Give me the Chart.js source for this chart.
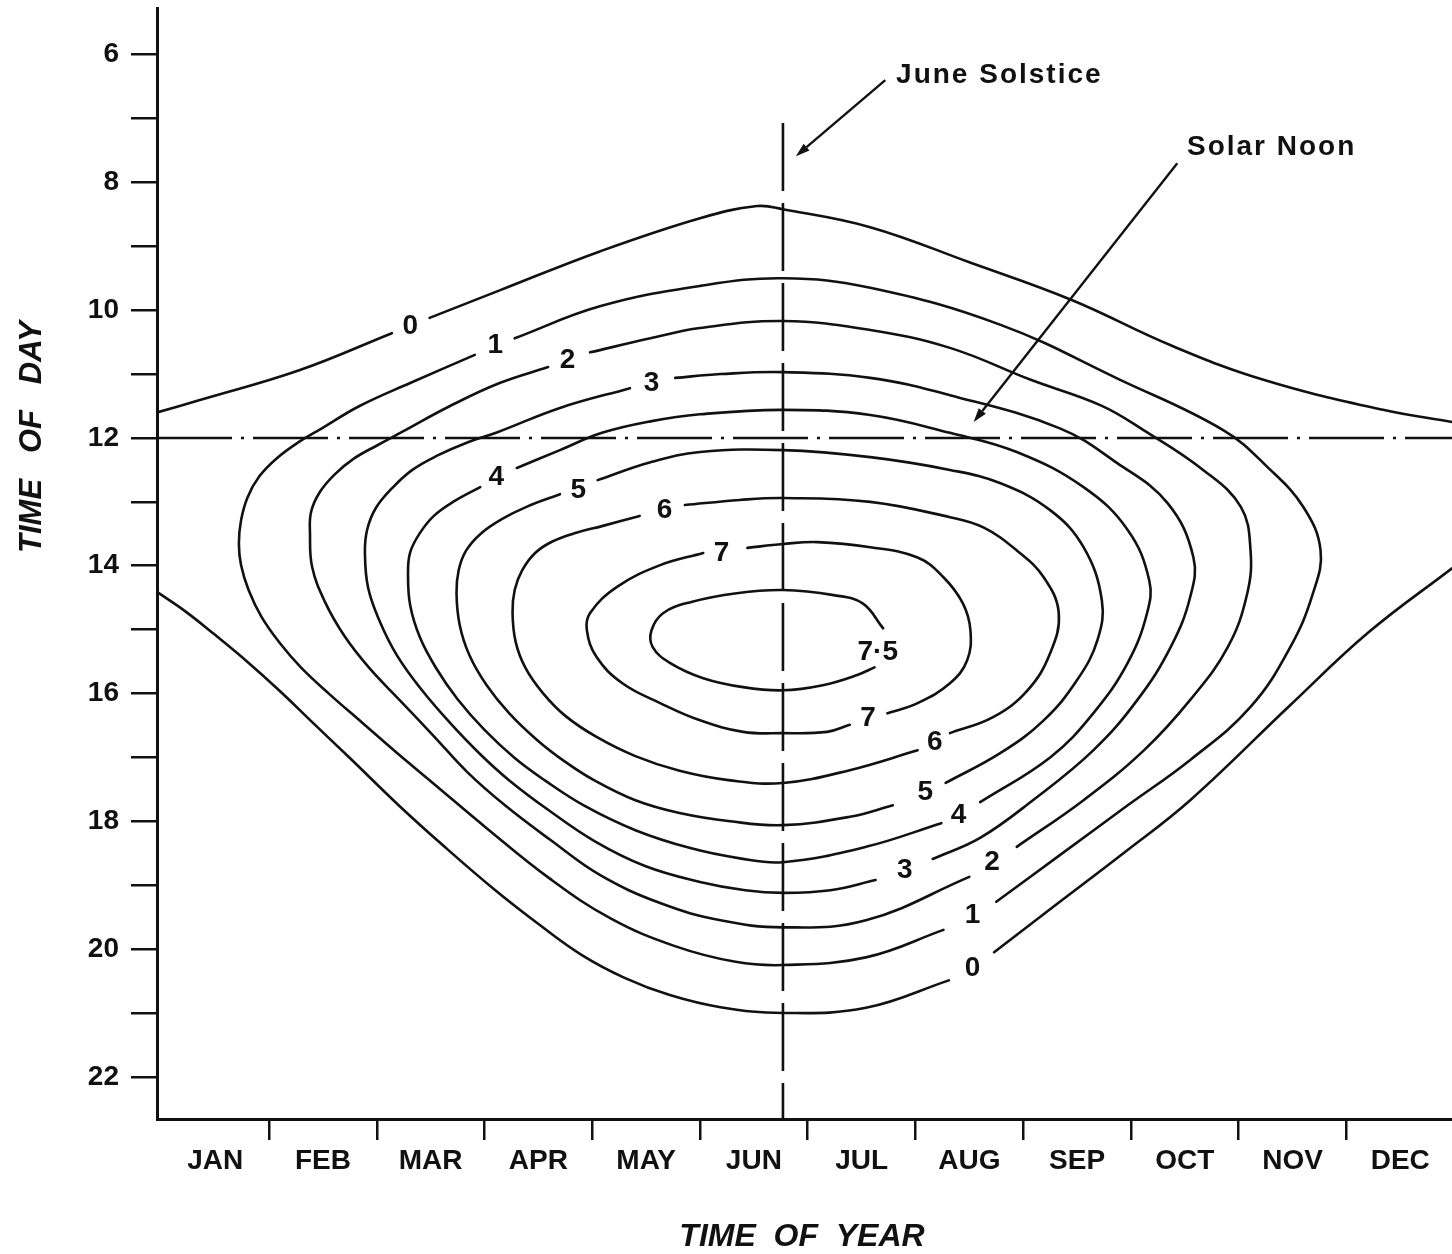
<!DOCTYPE html>
<html>
<head>
<meta charset="utf-8">
<script src="https://cdn.jsdelivr.net/npm/chart.js@4.4.1/dist/chart.umd.min.js"></script>
<style>
  html, body { margin: 0; padding: 0; background: #fff; }
  canvas { display: block; }
</style>
</head>
<body>
<canvas id="chart" width="1452" height="1254"></canvas>
<script>
// Axis content
const MONTHS = ['JAN', 'FEB', 'MAR', 'APR', 'MAY', 'JUN', 'JUL', 'AUG', 'SEP', 'OCT', 'NOV', 'DEC'];
const HOUR_TICKS = [6, 7, 8, 9, 10, 11, 12, 13, 14, 15, 16, 17, 18, 19, 20, 21, 22];
const MONTH_RANGE = [-0.04, 11.98];
const HOUR_RANGE = [5.27, 22.66];

// Reference lines: June solstice (months from 1 Jan) and solar noon (hour)
const SOLSTICE_MONTH = 5.77;
const SOLSTICE_HOURS = [7.07, 22.66];
const NOON_HOUR = 12;

// Contours, [month, hour] pairs; each inner list is one drawn stretch
// (stretches break where a contour value is written).
const contour0Upper = [
  [[-0.04, 11.60], [0.35, 11.41], [1.28, 10.94], [2.14, 10.36]],
  [[2.49, 10.12], [3.14, 9.69], [4.07, 9.08], [5.00, 8.56], [5.53, 8.37], [5.77, 8.42], [6.58, 8.70],
   [7.50, 9.25], [8.45, 9.84], [9.37, 10.55], [10.23, 11.09], [11.34, 11.56], [11.98, 11.75]]
];
const contour0Lower = [
  [[-0.04, 14.41], [0.22, 14.71], [0.49, 15.07], [0.79, 15.49], [1.10, 15.96], [1.42, 16.48], [1.75, 17.01],
   [2.21, 17.76], [2.63, 18.40], [3.10, 19.08], [3.51, 19.62], [3.90, 20.09], [4.30, 20.45], [4.72, 20.72],
   [5.19, 20.91], [5.77, 21.00], [6.54, 20.92], [7.31, 20.49]],
  [[7.73, 20.05], [8.34, 19.26], [8.93, 18.50], [9.55, 17.67], [10.48, 16.18], [11.20, 15.05], [11.98, 14.04]]
];
const contour1 = [
  [[3.28, 10.44], [4.07, 9.94], [5.00, 9.62], [5.77, 9.50], [6.58, 9.65], [7.79, 10.23], [8.90, 11.09],
   [9.86, 11.88], [10.27, 12.46], [10.60, 13.08], [10.76, 13.76], [10.69, 14.43], [10.48, 15.27],
   [10.11, 16.21], [9.55, 17.04], [8.97, 17.75], [8.34, 18.53], [7.75, 19.26]],
  [[7.26, 19.70], [6.54, 20.13], [5.77, 20.25], [5.33, 20.20], [4.76, 19.95], [4.17, 19.52], [3.60, 18.89],
   [3.00, 18.08], [2.52, 17.40], [2.18, 16.92], [1.86, 16.45], [1.56, 16.01], [1.30, 15.60], [1.10, 15.21],
   [0.93, 14.80], [0.81, 14.38], [0.74, 13.99], [0.72, 13.65], [0.74, 13.29], [0.80, 12.93], [0.91, 12.60],
   [1.07, 12.32], [1.27, 12.07], [1.49, 11.85], [1.84, 11.50], [2.31, 11.14], [2.91, 10.70]]
];
const contour2 = [
  [[3.98, 10.66], [4.54, 10.44], [5.00, 10.28], [5.77, 10.17], [6.58, 10.31], [7.32, 10.59], [8.07, 11.09],
   [8.72, 11.49], [9.12, 11.88], [9.67, 12.50], [10.02, 13.08], [10.11, 13.76], [10.08, 14.43], [9.90, 15.27],
   [9.55, 16.10], [9.12, 16.89], [8.56, 17.67], [7.94, 18.40]],
  [[7.50, 18.87], [6.54, 19.55], [5.77, 19.66], [5.19, 19.55], [4.63, 19.28], [4.07, 18.84], [3.61, 18.29],
   [3.19, 17.75], [2.84, 17.23], [2.52, 16.65], [2.21, 16.10], [1.93, 15.60], [1.70, 15.10], [1.52, 14.57],
   [1.40, 14.02], [1.38, 13.49], [1.39, 13.16], [1.47, 12.85], [1.61, 12.57], [1.79, 12.32], [2.01, 12.11],
   [2.23, 11.91], [2.68, 11.50], [3.14, 11.14], [3.59, 10.89]]
];
const contour3 = [
  [[4.77, 11.06], [5.19, 11.00], [5.77, 10.97], [6.58, 11.06], [7.32, 11.33], [8.34, 11.85], [8.87, 12.39],
   [9.34, 13.02], [9.58, 13.87], [9.55, 14.49], [9.37, 15.27], [9.06, 16.10], [8.65, 16.89], [8.09, 17.67],
   [7.60, 18.26], [7.16, 18.59]],
  [[6.63, 18.92], [6.21, 19.08], [5.77, 19.12], [5.42, 19.08], [5.00, 18.95], [4.49, 18.70], [4.02, 18.31],
   [3.59, 17.82], [3.23, 17.36], [2.96, 16.95], [2.68, 16.46], [2.42, 15.95], [2.19, 15.41], [2.03, 14.88],
   [1.92, 14.35], [1.89, 13.80], [1.91, 13.44], [1.99, 13.10], [2.14, 12.79], [2.33, 12.50], [2.57, 12.27],
   [2.84, 12.07], [3.12, 11.91], [3.70, 11.53], [4.35, 11.22]]
];
const contour4 = [
  [[3.30, 12.47], [3.70, 12.19], [4.09, 11.92], [4.54, 11.74], [5.00, 11.63], [5.77, 11.56], [6.58, 11.64],
   [7.32, 11.92], [7.94, 12.22], [8.56, 12.77], [8.97, 13.44], [9.17, 14.23], [9.15, 14.74], [8.97, 15.52],
   [8.65, 16.31], [8.25, 17.00], [7.60, 17.70]],
  [[7.24, 18.03], [6.54, 18.40], [5.77, 18.64], [5.37, 18.58], [4.91, 18.42], [4.40, 18.14], [3.93, 17.76],
   [3.56, 17.36], [3.28, 17.01], [3.00, 16.57], [2.75, 16.09], [2.55, 15.60], [2.40, 15.12], [2.31, 14.62],
   [2.29, 14.12], [2.31, 13.79], [2.40, 13.49], [2.53, 13.22], [2.72, 12.99], [2.96, 12.77]]
];
const contour5 = [
  [[4.05, 12.66], [4.54, 12.38], [5.00, 12.22], [5.77, 12.19], [6.58, 12.30], [7.32, 12.50], [7.79, 12.71],
   [8.25, 13.13], [8.56, 13.71], [8.73, 14.54], [8.69, 15.16], [8.50, 15.79], [8.19, 16.42], [7.79, 16.93],
   [7.28, 17.40]],
  [[6.79, 17.75], [6.39, 17.93], [5.77, 18.06], [5.28, 18.00], [4.81, 17.87], [4.40, 17.67], [4.02, 17.36],
   [3.75, 17.07], [3.49, 16.73], [3.23, 16.31], [3.02, 15.87], [2.86, 15.40], [2.77, 14.93], [2.74, 14.43],
   [2.76, 14.07], [2.83, 13.76], [2.97, 13.49], [3.16, 13.27], [3.40, 13.07], [3.70, 12.88]]
];
const contour6 = [
  [[4.86, 13.05], [5.37, 12.97], [5.77, 12.94], [6.58, 13.00], [7.32, 13.24], [7.63, 13.40], [7.94, 13.76],
   [8.19, 14.18], [8.33, 14.74], [8.25, 15.37], [8.04, 15.95], [7.72, 16.37], [7.32, 16.62]],
  [[7.02, 16.89], [6.39, 17.20], [5.77, 17.40], [5.28, 17.36], [4.81, 17.21], [4.40, 16.98], [4.04, 16.68],
   [3.75, 16.35], [3.54, 15.99], [3.38, 15.60], [3.29, 15.20], [3.26, 14.74], [3.28, 14.38], [3.35, 14.07],
   [3.47, 13.80], [3.63, 13.62], [3.86, 13.48], [4.09, 13.38], [4.44, 13.22]]
];
const contour7 = [
  [[5.44, 13.72], [5.77, 13.66], [6.09, 13.63], [6.58, 13.71], [7.02, 13.87], [7.26, 14.18], [7.44, 14.59],
   [7.51, 15.01], [7.48, 15.48], [7.32, 15.84], [7.02, 16.15], [6.74, 16.31]],
  [[6.39, 16.49], [6.18, 16.60], [5.77, 16.62], [5.40, 16.60], [5.00, 16.42], [4.63, 16.15], [4.28, 15.84],
   [4.04, 15.43], [3.95, 15.01], [3.98, 14.74], [4.23, 14.33], [4.63, 13.99], [5.03, 13.80]]
];
const contour75 = [
  [[6.70, 14.98], [6.51, 14.59], [6.24, 14.46], [5.77, 14.38], [5.34, 14.43], [4.91, 14.57], [4.66, 14.74],
   [4.55, 15.01], [4.56, 15.27], [4.72, 15.52], [5.03, 15.76], [5.40, 15.90], [5.77, 15.95], [6.14, 15.87],
   [6.46, 15.71], [6.62, 15.59]]
];

// Contour values written on the lines, with their [month, hour] positions
const LABEL_TEXT  = ['0', '1', '2', '3', '4', '5', '6', '7', '7·5', '7', '6', '5', '4', '3', '2', '1', '0'];
const LABEL_MONTH = [2.31, 3.10, 3.77, 4.55, 3.11, 3.87, 4.67, 5.20, 6.65, 6.56, 7.18, 7.09, 7.40, 6.90, 7.71, 7.53, 7.53];
const LABEL_HOUR  = [10.25, 10.55, 10.78, 11.14, 12.61, 12.82, 13.13, 13.80, 15.35, 16.39, 16.76, 17.54, 17.90, 18.76, 18.64, 19.47, 20.30];

// Callouts: text start (left, baseline), leader start and arrow tip
const NOTE_TEXT = ['June Solstice', 'Solar Noon'];
const NOTE_AT   = [[6.82, 6.45], [9.52, 7.57]];
const NOTE_FROM = [[6.72, 6.40], [9.43, 7.70]];
const NOTE_TO   = [[5.89, 7.59], [7.54, 11.75]];

const INK = '#111';
const FONT = '"Liberation Sans", Arial, Helvetica, sans-serif';

function lineSet(points, extra) {
  return Object.assign({
    data: points.map(([x, y]) => ({ x, y })),
    showLine: true,
    pointRadius: 0,
    pointHoverRadius: 0,
    borderColor: INK,
    borderWidth: 2.6,
    tension: 0.4,
    fill: false,
    borderCapStyle: 'round',
    borderJoinStyle: 'round'
  }, extra || {});
}

const contours = [contour0Upper, contour0Lower, contour1, contour2, contour3, contour4,
                  contour5, contour6, contour7, contour75];
const datasets = [];
contours.forEach(c => c.forEach(seg => datasets.push(lineSet(seg))));
datasets.push(lineSet([[MONTH_RANGE[0], NOON_HOUR], [MONTH_RANGE[1], NOON_HOUR]],
  { tension: 0, borderWidth: 2.4, borderDash: [75, 9, 3, 9], borderCapStyle: 'butt' }));
datasets.push(lineSet([[SOLSTICE_MONTH, SOLSTICE_HOURS[0]], [SOLSTICE_MONTH, SOLSTICE_HOURS[1]]],
  { tension: 0, borderWidth: 2.6, borderDash: [68, 12], borderCapStyle: 'butt' }));

const annotate = {
  id: 'annotate',
  afterDatasetsDraw(chart) {
    const { ctx, scales: { x, y } } = chart;
    const px = m => x.getPixelForValue(m);
    const py = h => y.getPixelForValue(h);
    ctx.save();

    // contour values
    ctx.font = `bold 28px ${FONT}`;
    ctx.textAlign = 'center';
    ctx.textBaseline = 'middle';
    ctx.fillStyle = INK;
    LABEL_TEXT.forEach((t, i) => {
      ctx.fillText(t, px(LABEL_MONTH[i]), py(LABEL_HOUR[i]));
    });

    // callouts with leaders and arrowheads
    ctx.strokeStyle = INK;
    ctx.lineWidth = 2.4;
    NOTE_TEXT.forEach((t, i) => {
      const x0 = px(NOTE_FROM[i][0]), y0 = py(NOTE_FROM[i][1]);
      const x1 = px(NOTE_TO[i][0]), y1 = py(NOTE_TO[i][1]);
      const ang = Math.atan2(y1 - y0, x1 - x0);
      const head = 14, half = 4.5;
      const bx = x1 - head * Math.cos(ang), by = y1 - head * Math.sin(ang);
      ctx.beginPath();
      ctx.moveTo(x0, y0);
      ctx.lineTo(bx, by);
      ctx.stroke();
      ctx.beginPath();
      ctx.moveTo(x1, y1);
      ctx.lineTo(bx + half * Math.sin(ang), by - half * Math.cos(ang));
      ctx.lineTo(bx - half * Math.sin(ang), by + half * Math.cos(ang));
      ctx.closePath();
      ctx.fill();

      ctx.font = `bold 28px ${FONT}`;
      ctx.textAlign = 'left';
      ctx.textBaseline = 'alphabetic';
      if ('letterSpacing' in ctx) ctx.letterSpacing = '2px';
      ctx.fillText(t, px(NOTE_AT[i][0]), py(NOTE_AT[i][1]));
      if ('letterSpacing' in ctx) ctx.letterSpacing = '0px';
    });
    ctx.restore();
  },
  afterDraw(chart) {
    const { ctx } = chart;
    ctx.save();
    ctx.fillStyle = INK;
    ctx.font = `italic bold 31px ${FONT}`;
    ctx.textAlign = 'center';
    ctx.textBaseline = 'alphabetic';
    // vertical axis title
    ctx.translate(41, 437);
    ctx.rotate(-Math.PI / 2);
    ctx.fillText('TIME   OF   DAY', 0, 0);
    ctx.restore();

    ctx.save();
    ctx.fillStyle = INK;
    ctx.font = `italic bold 32px ${FONT}`;
    ctx.textAlign = 'center';
    ctx.textBaseline = 'alphabetic';
    ctx.fillText('TIME  OF  YEAR', 802, 1246);
    ctx.restore();
  }
};

new Chart(document.getElementById('chart'), {
  type: 'scatter',
  data: { datasets },
  options: {
    responsive: false,
    animation: false,
    devicePixelRatio: 1,
    layout: { padding: { top: 8, left: 0, right: 0, bottom: 0 } },
    plugins: { legend: { display: false }, tooltip: { enabled: false } },
    events: [],
    scales: {
      x: {
        type: 'linear',
        position: 'bottom',
        min: MONTH_RANGE[0],
        max: MONTH_RANGE[1],
        afterBuildTicks: s => { s.ticks = MONTHS.map((_, i) => ({ value: i + 0.5 })); },
        afterFit: s => { s.height = 135; s.paddingLeft = 0; s.paddingRight = 0; },
        ticks: {
          autoSkip: false,
          maxRotation: 0,
          padding: 4,
          color: INK,
          font: { family: FONT, size: 28, weight: 'bold' },
          callback: (v, i) => MONTHS[i]
        },
        grid: {
          display: true,
          drawOnChartArea: false,
          drawTicks: true,
          tickLength: 21,
          offset: true,
          lineWidth: 2.5,
          color: c => (c.index === 0 ? 'rgba(0,0,0,0)' : INK)
        },
        border: { display: true, color: INK, width: 3 }
      },
      y: {
        type: 'linear',
        reverse: true,
        min: HOUR_RANGE[0],
        max: HOUR_RANGE[1],
        afterBuildTicks: s => { s.ticks = HOUR_TICKS.map(v => ({ value: v })); },
        afterFit: s => { s.width = 157; s.paddingTop = 0; s.paddingBottom = 0; },
        ticks: {
          autoSkip: false,
          padding: 12,
          color: INK,
          font: { family: FONT, size: 28, weight: 'bold' },
          callback: v => (v % 2 === 0 ? String(v) : '')
        },
        grid: {
          display: true,
          drawOnChartArea: false,
          drawTicks: true,
          tickLength: 26,
          lineWidth: 2.5,
          color: INK
        },
        border: { display: true, color: INK, width: 3 }
      }
    }
  },
  plugins: [annotate]
});
</script>
</body>
</html>
